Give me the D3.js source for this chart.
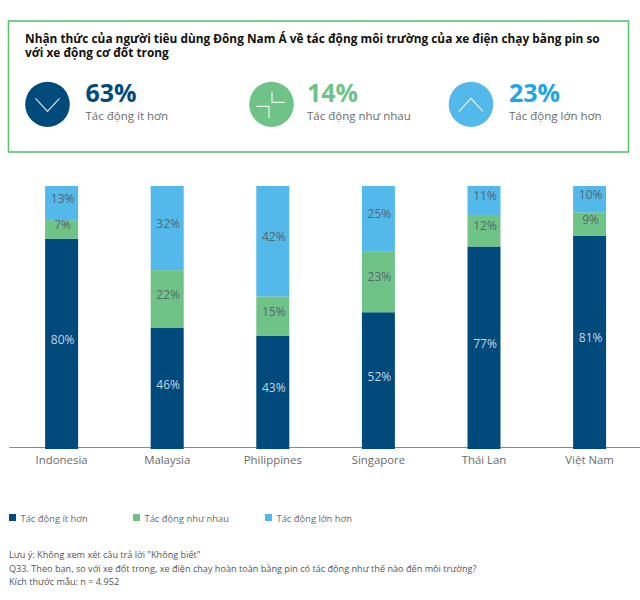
<!DOCTYPE html>
<html><head><meta charset="utf-8">
<script src="https://cdnjs.cloudflare.com/ajax/libs/d3/7.8.5/d3.min.js"></script>
<style>html,body{margin:0;padding:0;background:#fff}svg{display:block}text{font-family:"Open Sans",sans-serif}</style>
</head><body><svg id="c" width="640" height="600"></svg>
<script>
const titleLines=["Nhận thức của người tiêu dùng Đông Nam Á về tác động môi trường của xe điện chạy bằng pin so","với xe động cơ đốt trong"];
const categories=["Indonesia","Malaysia","Philippines","Singapore","Thái Lan","Việt Nam"];
const seriesNames=["Tác động ít hơn","Tác động như nhau","Tác động lớn hơn"];
const less=[80,46,43,52,77,81];
const same=[7,22,15,23,12,9];
const more=[13,32,42,25,11,10];
const summary=[63,14,23];
const colors=["#004b7c","#6fc387","#53b8ea"];
const summaryColors=["#004b7c","#6fc387","#1fa5e6"];
const notes=['Lưu ý: Không xem xét câu trả lời "Không biết"',"Q33. Theo bạn, so với xe đốt trong, xe điện chạy hoàn toàn bằng pin có tác động như thế nào đến môi trường?","Kích thước mẫu: n = 4.952"];

const svg=d3.select("#c");
const rows=categories.map((c,i)=>({c,0:less[i],1:same[i],2:more[i]}));
const stack=d3.stack().keys([0,1,2])(rows);
const x=d3.scaleBand().domain(categories).range([8.8,642.4]).paddingInner(0.6875).paddingOuter(0.3438);
const y=d3.scaleLinear().domain([0,100]).range([449,186]);

// box
svg.append("rect").attr("x",8.5).attr("y",21).attr("width",620).attr("height",131).attr("fill","none").attr("stroke","#5cc46f").attr("stroke-width",1.6);
const title=svg.append("text").attr("font-size",11.85).attr("font-weight",700).attr("fill","#111");
title.selectAll("tspan").data(titleLines).join("tspan").attr("x",25).attr("y",(d,i)=>42.5+i*14.6).text(d=>d);

// summary
const sx=[47.5,271.5,471], tx=[85.5,307,509];
const glyph=[
 [[[-12,-6],[0,7],[12,-6]]],
 [[[0.5,-13],[0.5,-2],[13,-2]],[[-15,2],[-2.5,2],[-2.5,14]]],
 [[[-12,7],[0,-6],[12,7]]]
];
const paths=d3.line();
const g=svg.append("g").selectAll("g").data(summary).join("g");
g.append("ellipse").attr("cx",(d,i)=>sx[i]).attr("cy",104.3).attr("rx",22.3).attr("ry",22.6).attr("fill",(d,i)=>colors[i]);
g.each(function(d,i){
 d3.select(this).selectAll("path").data(glyph[i]).join("path")
  .attr("transform",`translate(${sx[i]},104.3)`).attr("d",p=>paths(p)).attr("fill","none").attr("stroke","#fff").attr("stroke-opacity",.85).attr("stroke-width",1.2);
});
g.append("text").attr("x",(d,i)=>tx[i]).attr("y",102).attr("font-size",25).attr("font-weight",700).attr("fill",(d,i)=>summaryColors[i]).text(d=>d+"%");
g.append("text").attr("x",(d,i)=>tx[i]).attr("y",119.5).attr("font-size",11.5).attr("fill","#6b6b6b").text((d,i)=>seriesNames[i]);

// axis
const ax=svg.append("g").attr("transform","translate(0,447)").call(d3.axisBottom(x).tickSize(0).tickPadding(9));
ax.select(".domain").attr("stroke","#8a8a8a").attr("stroke-width",1);
ax.selectAll("text").attr("font-size",11.4).attr("fill","#6b6b6b").style("font-family",'"Open Sans",sans-serif');

// bars
const layer=svg.append("g").selectAll("g").data(stack).join("g").attr("fill",(d,i)=>colors[i]);
layer.selectAll("rect").data(d=>d.map(v=>({v,key:d.key}))).join("rect")
 .attr("x",d=>x(d.v.data.c)).attr("width",x.bandwidth())
 .attr("y",d=>y(d.v[1])).attr("height",d=>y(d.v[0])-y(d.v[1]));
layer.selectAll("text").data(d=>d.map(v=>({v,key:d.key}))).join("text")
 .attr("x",d=>x(d.v.data.c)+x.bandwidth()/2+1).attr("y",d=>y((d.v[0]+d.v[1])/2)-(d.key===0?0:0.5))
 .attr("text-anchor","middle").attr("font-size",12)
 .attr("fill",d=>d.key===0?"#c5d6e2":"#55666e")
 .text(d=>(d.v[1]-d.v[0])+"%");

// legend
const lx=[9,133,265];
const lg=svg.append("g").selectAll("g").data(seriesNames).join("g");
lg.append("rect").attr("x",(d,i)=>lx[i]).attr("y",514).attr("width",7).attr("height",7).attr("fill",(d,i)=>colors[i]);
lg.append("text").attr("x",(d,i)=>lx[i]+11.5).attr("y",522).attr("font-size",9.4).attr("fill","#6b6b6b").text(d=>d);

// notes
svg.append("g").selectAll("text").data(notes).join("text").attr("x",9).attr("y",(d,i)=>[558,571.5,585][i])
 .attr("font-size",9.14).attr("fill","#555").text(d=>d);
</script></body></html>
